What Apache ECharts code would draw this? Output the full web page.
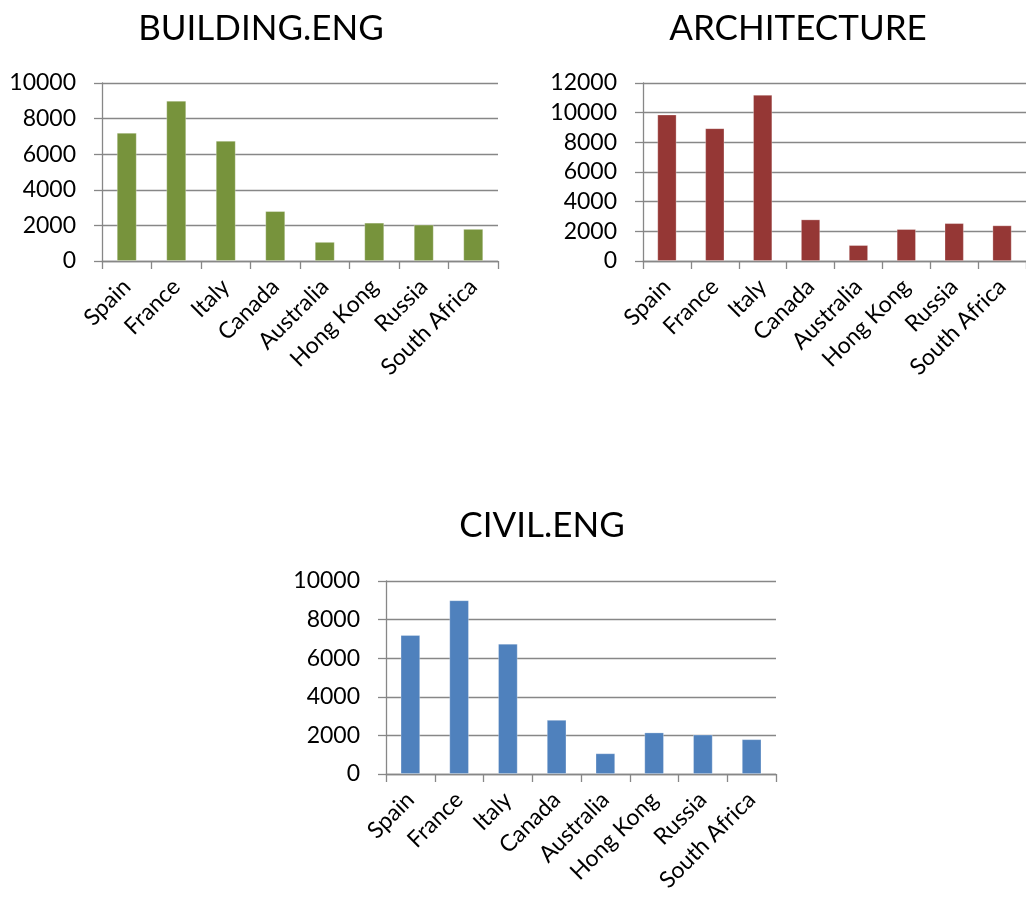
<!DOCTYPE html>
<html>
<head>
<meta charset="utf-8">
<script src="https://cdn.jsdelivr.net/npm/echarts@6/dist/echarts.min.js"></script>
<style>
  html, body { margin: 0; padding: 0; background: #fff; }
  #chart { width: 1026px; height: 902px; }
</style>
</head>
<body>
<div id="chart"></div>
<script>
// Countries shared by all three panels
const countries = ['Spain', 'France', 'Italy', 'Canada', 'Australia', 'Hong Kong', 'Russia', 'South Africa'];

// Values per discipline
const buildingEng = [7200, 9000, 6750, 2800, 1070, 2150, 2040, 1800];
const architecture = [9870, 8950, 11200, 2800, 1070, 2150, 2550, 2400];
const civilEng = [7200, 9000, 6750, 2800, 1070, 2150, 2040, 1800];

// Panel titles and y-axis ranges
const panelTitles = ['BUILDING.ENG', 'ARCHITECTURE', 'CIVIL.ENG'];
const yMax = [10000, 12000, 10000];
const yStep = 2000;

const FONT = 'Lato';
const AXIS_GRAY = '#878787';

const panels = [
  { data: buildingEng, color: '#77933C', grid: { left: 102, top: 83, width: 396, height: 178 }, titleX: 256, titleY: 6 },
  { data: architecture, color: '#953735', grid: { left: 643, top: 83, width: 383, height: 178 }, titleX: 793, titleY: 6 },
  { data: civilEng, color: '#4F81BD', grid: { left: 386, top: 581, width: 390, height: 193 }, titleX: 537, titleY: 503 }
];

const option = {
  animation: false,
  backgroundColor: '#ffffff',
  title: panels.map((p, i) => ({
    text: panelTitles[i],
    left: p.titleX,
    top: p.titleY,
    textAlign: 'center',
    textStyle: { fontFamily: FONT, fontSize: 35, fontWeight: 'normal', color: '#000' }
  })),
  grid: panels.map(p => Object.assign({ containLabel: false }, p.grid)),
  xAxis: panels.map((p, i) => ({
    type: 'category',
    gridIndex: i,
    data: countries,
    boundaryGap: true,
    axisLine: { lineStyle: { color: AXIS_GRAY, width: 1.3 } },
    axisTick: { show: true, length: 8, alignWithLabel: false, lineStyle: { color: AXIS_GRAY, width: 1.3 } },
    axisLabel: {
      rotate: 45,
      interval: 0,
      margin: 22,
      color: '#000',
      fontFamily: FONT,
      fontSize: 23
    }
  })),
  yAxis: panels.map((p, i) => ({
    type: 'value',
    gridIndex: i,
    min: 0,
    max: yMax[i],
    interval: yStep,
    axisLine: { show: true, lineStyle: { color: AXIS_GRAY, width: 1.3 } },
    axisTick: { show: true, length: 8, inside: false, lineStyle: { color: AXIS_GRAY, width: 1.3 } },
    splitLine: { show: true, lineStyle: { color: AXIS_GRAY, width: 1.3 } },
    axisLabel: {
      margin: 26,
      color: '#000',
      fontFamily: FONT,
      fontSize: 23,
      formatter: v => String(v)
    }
  })),
  series: panels.map((p, i) => ({
    type: 'bar',
    xAxisIndex: i,
    yAxisIndex: i,
    data: p.data,
    barWidth: '40%',
    itemStyle: { color: p.color, borderColor: 'rgba(255,255,255,0.35)', borderWidth: 0.8 }
  }))
};

const chart = echarts.init(document.getElementById('chart'), null, { renderer: 'canvas' });
chart.setOption(option);
</script>
</body>
</html>
